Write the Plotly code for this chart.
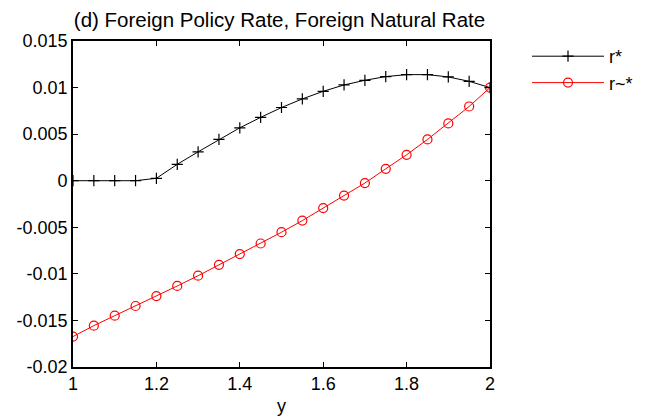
import plotly.graph_objects as go

y_vals = [1.0, 1.05, 1.1, 1.15, 1.2, 1.25, 1.3, 1.35, 1.4, 1.45, 1.5,
          1.55, 1.6, 1.65, 1.7, 1.75, 1.8, 1.85, 1.9, 1.95, 2.0]
r_star = [0.0, 0.0, 0.0, 0.0, 0.00026, 0.00176, 0.0031, 0.00443, 0.00568, 0.0068, 0.00786,
          0.00878, 0.0096, 0.01028, 0.01078, 0.01118, 0.01139, 0.01139, 0.01114, 0.01067, 0.0100]
r_tilde_star = [-0.01673, -0.01556, -0.01449, -0.01345, -0.01238, -0.0113, -0.0102, -0.00903,
                -0.00788, -0.00674, -0.00553, -0.00428, -0.00294, -0.0016, -0.00025, 0.00128,
                0.00278, 0.00443, 0.00615, 0.00797, 0.0100]

x_ticks = [1, 1.2, 1.4, 1.6, 1.8, 2]
x_tick_labels = ["1", "1.2", "1.4", "1.6", "1.8", "2"]
y_ticks = [-0.02, -0.015, -0.01, -0.005, 0, 0.005, 0.01, 0.015]
y_tick_labels = ["-0.02", "-0.015", "-0.01", "-0.005", "0", "0.005", "0.01", "0.015"]

font_family = "Liberation Sans, Arial, sans-serif"

fig = go.Figure()
fig.add_trace(go.Scatter(
    x=y_vals, y=r_star, name="r*", mode="lines+markers",
    line=dict(color="black", width=1),
    marker=dict(symbol="cross-thin", size=8, line=dict(color="black", width=1.2), color="black"),
))
fig.add_trace(go.Scatter(
    x=y_vals, y=r_tilde_star, name="r~*", mode="lines+markers",
    line=dict(color="red", width=1),
    marker=dict(symbol="circle-open", size=9, line=dict(color="red", width=1.2), color="red"),
))

axis_common = dict(
    showline=True, linecolor="black", linewidth=1.6, mirror="ticks",
    ticks="inside", ticklen=5, tickcolor="black", tickwidth=1,
    showgrid=False, zeroline=False, automargin=False,
    tickfont=dict(family=font_family, size=18, color="black"),
)

fig.update_layout(
    width=645, height=420,
    margin=dict(l=65, r=163, t=33, b=61, autoexpand=False),
    paper_bgcolor="white", plot_bgcolor="white",
    title=dict(text="(d) Foreign Policy Rate, Foreign Natural Rate",
               x=271.5 / 645, xanchor="center", y=1 - 12 / 420, yanchor="middle",
               font=dict(family=font_family, size=20.5, color="black")),
    xaxis=dict(range=[1, 2], tickvals=x_ticks, ticktext=x_tick_labels,
               title=dict(text="y", font=dict(family=font_family, size=18, color="black"), standoff=6),
               **axis_common),
    yaxis=dict(range=[-0.02, 0.015], tickvals=y_ticks, ticktext=y_tick_labels, **axis_common),
    legend=dict(x=(519 - 65) / 417, y=1 + 3 / 326, xanchor="left", yanchor="top",
                font=dict(family=font_family, size=18, color="black"),
                bgcolor="rgba(0,0,0,0)", itemwidth=72, tracegroupgap=0),
    showlegend=True,
)

fig.write_html("out.html")
